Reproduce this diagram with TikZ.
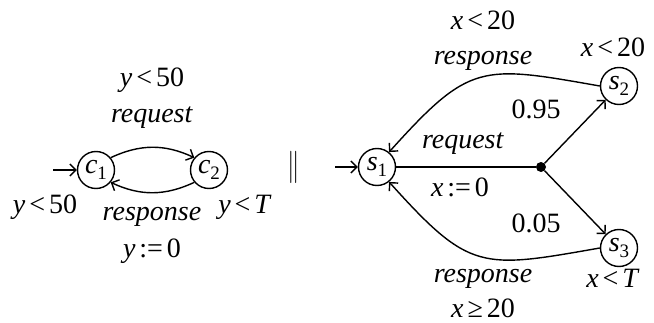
\documentclass[tikz,border=0pt]{standalone}
\usepackage{fontspec}
\setmainfont{Liberation Serif}
\usetikzlibrary{arrows.meta}
\newcommand\sbs[1]{\raisebox{-0.22em}{\fontsize{19}{19}\selectfont #1}}
\newcommand\rl[1]{\hspace{0.14em}#1\hspace{0.14em}}
\begin{document}
\begin{tikzpicture}[x=1pt,y=1pt,
  every node/.style={font=\fontsize{28}{32}\selectfont, inner sep=0pt},
  state/.style={circle, draw, line width=1.4pt, minimum size=37pt, inner sep=0pt},
  edge/.style={line width=1.4pt, -{Straight Barb[length=6pt,width=12pt]}},
  plain/.style={line width=1.4pt},
  lbl/.style={anchor=base}]
\useasboundingbox (0,0) rectangle (654,322);
% left automaton
\node[state] (c1) at (96,152) {\textit{c}\sbs{1}};
\node[state] (c2) at (209,152) {\textit{c}\sbs{2}};
\coordinate (c0) at (53,152);
\draw[edge] (c0) -- (c1);
\draw[edge] (c1.40) to[out=25,in=155] (c2.140);
\draw[edge] (c2.220) to[out=205,in=-25] (c1.-40);
\node[lbl] (l1) at (152,235) {\textit{y}\rl{<}50};
\node[lbl] (l2) at (152,200) {\textit{request}};
\node[lbl] (l3) at (152,102) {\textit{response}};
\node[lbl] (l4) at (152,65) {\textit{y}\rl{:=}0};
\node[lbl] (l5) at (45,109) {\textit{y}\rl{<}50};
\node[lbl] (l6) at (245,109) {\textit{y}\rl{<}\textit{T}};
% parallel
\node (par) at (294,155) {\scalebox{1}[1.3]{$\parallel$}};
% right automaton
\node[state] (s1) at (377,155) {\textit{s}\sbs{1}};
\node[state] (s2) at (619,236) {\textit{s}\sbs{2}};
\node[state] (s3) at (619,74) {\textit{s}\sbs{3}};
\node[circle, fill, minimum size=10pt, inner sep=0pt] (d) at (541,155) {};
\coordinate (s0) at (335,155);
\draw[edge] (s0) -- (s1);
\draw[plain] (s1) -- (d);
\draw[edge] (d) -- (s2);
\draw[edge] (d) -- (s3);
\draw[edge] (s2.180) to[out=170,in=48,looseness=1.4] (s1.51);
\draw[edge] (s3.180) to[out=190,in=-48,looseness=1.4] (s1.-51);
\node[lbl] (r1) at (483,292) {\textit{x}\rl{<}20};
\node[lbl] (r2) at (483,257) {\textit{response}};
\node[lbl] (r3) at (613,265) {\textit{x}\rl{<}20};
\node[lbl] (r4) at (536,203) {0.95};
\node[lbl] (r5) at (463,174) {\textit{request}};
\node[lbl] (r6) at (460,125) {\textit{x}\rl{:=}0};
\node[lbl] (r7) at (536,90) {0.05};
\node[lbl] (r8) at (483,40) {\textit{response}};
\node[lbl] (r9) at (483,5) {\textit{x}\rl{≥}20};
\node[lbl] (r10) at (613,35) {\textit{x}\rl{<}\textit{T}};
\end{tikzpicture}
\end{document}
